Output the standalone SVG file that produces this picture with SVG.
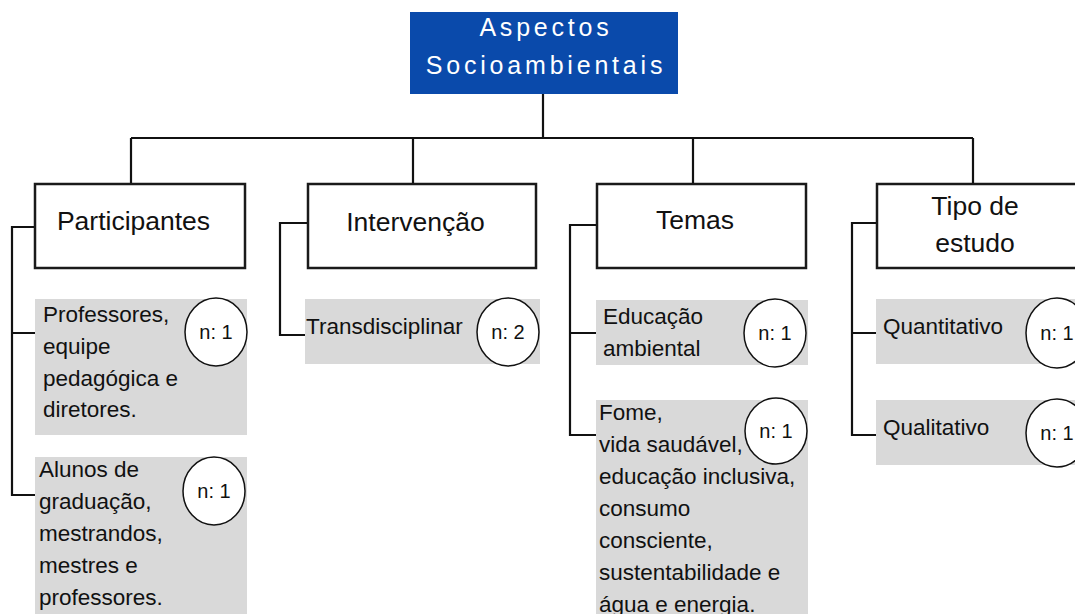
<svg xmlns="http://www.w3.org/2000/svg" width="1075" height="614" viewBox="0 0 1075 614">
<style>
.bg{fill:#ffffff}
.hdr{fill:#ffffff;stroke:#1a1a1a;stroke-width:2.5}
.item{fill:#d9d9d9;stroke:none}
.cnt{fill:#ffffff;stroke:#111111;stroke-width:1.5}
.ln{fill:none;stroke:#111111;stroke-width:2.2}
.t{font-family:"Liberation Sans",Arial,sans-serif;fill:#111111}
.h{font-size:26.5px;text-anchor:middle}
.i{font-size:22.5px}
.n{font-family:"Liberation Sans Narrow","Liberation Sans",Arial,sans-serif;font-size:20px;text-anchor:middle;fill:#111111}
.title{font-family:"Liberation Sans",Arial,sans-serif;font-size:25px;fill:#ffffff;text-anchor:middle;letter-spacing:3.8px}
</style>
<rect class="bg" x="0" y="0" width="1075" height="614"/>
<g id="connectors">
<path class="ln" d="M543,94 V138 M131,138 H973 M131,138 V183 M413,138 V183 M693,138 V183 M973,138 V183"/>
<path class="ln" d="M35,227 H12 V495 H35 M12,333 H35"/>
<path class="ln" d="M308,223 H280 V335 H305"/>
<path class="ln" d="M597,225 H570 V435 H596 M570,333 H596"/>
<path class="ln" d="M877,223 H852 V435 H876 M852,333 H876"/>
</g>
<g id="root">
<rect x="410" y="12" width="268" height="82" fill="#0a4aab"/>
<text class="title" x="546" y="36">Aspectos</text>
<text class="title" x="546" y="74">Socioambientais</text>
</g>
<g id="participantes">
<rect class="hdr" x="35" y="184" width="210" height="84"/>
<text class="t h" x="133.5" y="230">Participantes</text>
</g>
<g id="professores">
<rect class="item" x="35" y="299" width="212" height="136"/>
<text class="t i" x="43" y="322">Professores,</text>
<text class="t i" x="43" y="354">equipe</text>
<text class="t i" x="43" y="386">pedagógica e</text>
<text class="t i" x="43" y="417">diretores.</text>
<ellipse class="cnt" cx="216" cy="332" rx="31" ry="34"/>
<text class="n" x="216" y="339">n: 1</text>
</g>
<g id="alunos">
<rect class="item" x="35" y="457" width="212" height="157"/>
<text class="t i" x="39" y="477">Alunos de</text>
<text class="t i" x="39" y="509">graduação,</text>
<text class="t i" x="39" y="541">mestrandos,</text>
<text class="t i" x="39" y="573">mestres e</text>
<text class="t i" x="39" y="605">professores.</text>
<ellipse class="cnt" cx="214" cy="491" rx="31" ry="34"/>
<text class="n" x="214" y="498">n: 1</text>
</g>
<g id="intervencao">
<rect class="hdr" x="308" y="184" width="228" height="84"/>
<text class="t h" x="415.5" y="231">Intervenção</text>
</g>
<g id="transdisciplinar">
<rect class="item" x="305" y="299" width="235" height="65"/>
<text class="t i" x="306" y="334">Transdisciplinar</text>
<ellipse class="cnt" cx="508" cy="332" rx="31" ry="34"/>
<text class="n" x="508" y="339">n: 2</text>
</g>
<g id="temas">
<rect class="hdr" x="597" y="184" width="209" height="84"/>
<text class="t h" x="695" y="229">Temas</text>
</g>
<g id="educacao">
<rect class="item" x="596" y="300" width="212" height="65"/>
<text class="t i" x="603" y="324">Educação</text>
<text class="t i" x="603" y="356">ambiental</text>
<ellipse class="cnt" cx="775" cy="333" rx="31" ry="34"/>
<text class="n" x="775" y="340">n: 1</text>
</g>
<g id="fome">
<rect class="item" x="596" y="400" width="212" height="214"/>
<text class="t i" x="599" y="420">Fome,</text>
<text class="t i" x="599" y="452">vida saudável,</text>
<text class="t i" x="599" y="484">educação inclusiva,</text>
<text class="t i" x="599" y="516">consumo</text>
<text class="t i" x="599" y="548">consciente,</text>
<text class="t i" x="599" y="580">sustentabilidade e</text>
<text class="t i" x="599" y="612">água e energia.</text>
<ellipse class="cnt" cx="776" cy="431" rx="31" ry="33"/>
<text class="n" x="776" y="438">n: 1</text>
</g>
<g id="tipo">
<rect class="hdr" x="877" y="184" width="210" height="84"/>
<text class="t h" x="975" y="215">Tipo de</text>
<text class="t h" x="975" y="252">estudo</text>
</g>
<g id="quantitativo">
<rect class="item" x="876" y="299" width="199" height="65"/>
<text class="t i" x="883" y="334">Quantitativo</text>
<ellipse class="cnt" cx="1057" cy="333" rx="31" ry="35"/>
<text class="n" x="1057" y="340">n: 1</text>
</g>
<g id="qualitativo">
<rect class="item" x="876" y="400" width="199" height="65"/>
<text class="t i" x="883" y="435">Qualitativo</text>
<ellipse class="cnt" cx="1057" cy="433" rx="31" ry="34"/>
<text class="n" x="1057" y="440">n: 1</text>
</g>
</svg>
